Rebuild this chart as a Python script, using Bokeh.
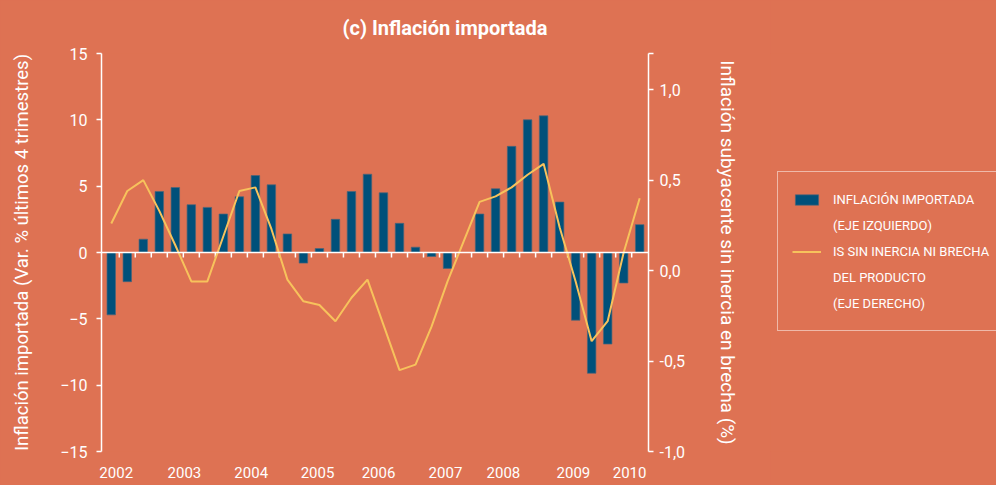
from bokeh.plotting import figure
from bokeh.layouts import row
from bokeh.models import Range1d, LinearAxis, FixedTicker, Legend, LegendItem, ColumnDataSource, Span
from bokeh.embed import file_html
from bokeh.resources import INLINE

# ---- data (2002Q1 .. 2010Q2) ----
quarters = list(range(1, 35))
inflacion_importada = [-4.7, -2.2, 1.0, 4.6, 4.9, 3.6, 3.4, 2.9, 4.2, 5.8, 5.1, 1.4,
                       -0.8, 0.3, 2.5, 4.6, 5.9, 4.5, 2.2, 0.4, -0.3, -1.2, 0.0, 2.9,
                       4.8, 8.0, 10.0, 10.3, 3.8, -5.1, -9.1, -6.9, -2.3, 2.1]
is_sin_inercia = [0.26, 0.44, 0.50, 0.33, 0.14, -0.06, -0.06, 0.19, 0.44, 0.46, 0.23, -0.05,
                  -0.17, -0.19, -0.28, -0.15, -0.05, -0.30, -0.55, -0.52, -0.31, -0.06, 0.16, 0.38,
                  0.41, 0.46, 0.53, 0.59, 0.24, -0.06, -0.39, -0.28, 0.10, 0.40]
year_labels = ["2002", "2003", "2004", "2005", "2006", "2007", "2008", "2009", "2010"]
year_label_pos = [1.31, 5.57, 9.74, 13.88, 17.69, 21.87, 25.49, 29.86, 33.37]
left_ticks = [-15, -10, -5, 0, 5, 10, 15]
right_ticks = [-1.0, -0.5, 0.0, 0.5, 1.0, 1.2]
right_tick_labels = ["-1,0", "-0,5", "0,0", "0,5", "1,0", ""]
legend_lines_bars = ["INFLACIÓN IMPORTADA", "(EJE IZQUIERDO)"]
legend_lines_line = ["IS SIN INERCIA NI BRECHA", "DEL PRODUCTO", "(EJE DERECHO)"]

BG = "#DE7253"
BLUE = "#00507A"
YELLOW = "#F7C25C"
WHITE = "#FFFFFF"
FONT = "Roboto"

p = figure(width=770, height=485, x_range=Range1d(0.39, 34.55), y_range=Range1d(-15, 15),
           output_backend="svg", toolbar_location=None,
           min_border_left=101, min_border_right=122, min_border_top=53, min_border_bottom=34,
           background_fill_color=BG, border_fill_color=BG, outline_line_color=None)
p.grid.visible = False

# title
p.title.text = "(c) Inflación importada"
p.title.align = "left"
p.title.offset = 241
p.title.text_font = FONT
p.title.text_font_size = "20px"
p.title.text_font_style = "bold"
p.title.text_color = WHITE
p.title.standoff = 27

# x axis (year labels only)
xa = p.xaxis[0]
xa.ticker = FixedTicker(ticks=year_label_pos)
xa.major_label_overrides = {pos: lab for pos, lab in zip(year_label_pos, year_labels)}
xa.axis_line_color = None
xa.major_tick_line_color = None
xa.minor_tick_line_color = None
xa.major_tick_out = 0
xa.major_tick_in = 0
xa.major_label_standoff = 15
xa.major_label_text_font = FONT
xa.major_label_text_font_size = "15px"
xa.major_label_text_color = WHITE

# left axis
ya = p.yaxis[0]
ya.ticker = FixedTicker(ticks=left_ticks)
ya.axis_line_color = WHITE
ya.axis_line_width = 1.5
ya.major_tick_line_color = WHITE
ya.major_tick_line_width = 1.5
ya.major_tick_out = 5
ya.major_tick_in = 0
ya.minor_tick_line_color = None
ya.major_label_standoff = 9
ya.major_label_text_font = FONT
ya.major_label_text_font_size = "16px"
ya.major_label_text_color = WHITE
ya.axis_label = "Inflación importada (Var. % últimos 4 trimestres)"
ya.axis_label_text_font = FONT
ya.axis_label_text_font_size = "18.5px"
ya.axis_label_text_font_style = "normal"
ya.axis_label_text_color = WHITE
ya.axis_label_standoff = 24

# right axis
p.extra_y_ranges = {"right": Range1d(-1.0, 1.2)}
ra = LinearAxis(y_range_name="right")
ra.ticker = FixedTicker(ticks=right_ticks)
ra.major_label_overrides = {t: l for t, l in zip(right_ticks, right_tick_labels)}
ra.axis_line_color = WHITE
ra.axis_line_width = 1.5
ra.major_tick_line_color = WHITE
ra.major_tick_line_width = 1.5
ra.major_tick_out = 5
ra.major_tick_in = 0
ra.minor_tick_line_color = None
ra.major_label_standoff = 6
ra.major_label_text_font = FONT
ra.major_label_text_font_size = "16px"
ra.major_label_text_color = WHITE
ra.axis_label = "Inflación subyacente sin inercia en brecha (%)"
ra.axis_label_text_font = FONT
ra.axis_label_text_font_size = "19px"
ra.axis_label_text_font_style = "normal"
ra.axis_label_text_color = WHITE
ra.axis_label_standoff = 28
p.add_layout(ra, "right")

src = ColumnDataSource(dict(q=quarters, inf=inflacion_importada, isi=is_sin_inercia))

bars = p.vbar(x="q", top="inf", bottom=0, width=0.53, source=src,
              fill_color=BLUE, line_color="#4d6578", line_width=0.7)

# zero line with small ticks between quarters
p.add_layout(Span(location=0, dimension="width", line_color=WHITE, line_width=1.5))
tick_x = [q + 0.5 for q in quarters[:-1]]
p.segment(x0=tick_x, y0=[0] * len(tick_x), x1=tick_x, y1=[-0.38] * len(tick_x),
          line_color=WHITE, line_width=1.5)

line = p.line(x="q", y="isi", source=src, y_range_name="right",
              line_color=YELLOW, line_width=2)

# ---- legend panel (second figure, no axes; proxies lie outside its ranges) ----
pl = figure(width=226, height=485, output_backend="svg", toolbar_location=None,
            x_range=Range1d(-3, -2), y_range=Range1d(-3, -2),
            x_axis_location=None, y_axis_location=None,
            min_border_left=0, min_border_right=0, min_border_top=0, min_border_bottom=0,
            background_fill_color=BG, border_fill_color=BG, outline_line_color=None)
pl.grid.visible = False
lg_bar = pl.vbar(x="q", top="inf", bottom=0, width=0.53, source=src,
                 fill_color=BLUE, line_color="#4d6578", line_width=0.7)
lg_line = pl.line(x="q", y="isi", source=src, line_color=YELLOW, line_width=2)
lg_blank = pl.line(x="q", y="isi", source=src, line_alpha=0)

items = [LegendItem(label=legend_lines_bars[0], renderers=[lg_bar])]
items += [LegendItem(label=t, renderers=[lg_blank]) for t in legend_lines_bars[1:]]
items += [LegendItem(label=legend_lines_line[0], renderers=[lg_line])]
items += [LegendItem(label=t, renderers=[lg_blank]) for t in legend_lines_line[1:]]

legend = Legend(items=items, location=(7, 120))
legend.margin = 0
legend.padding = 14
legend.spacing = 0
legend.glyph_width = 29
legend.glyph_height = 13
legend.label_height = 26
legend.label_standoff = 12
legend.label_width = 175
legend.label_text_font = FONT
legend.label_text_font_size = "13px"
legend.label_text_color = WHITE
legend.background_fill_color = BG
legend.background_fill_alpha = 1.0
legend.border_line_color = WHITE
legend.border_line_width = 1.2
pl.add_layout(legend)

html = file_html(row(p, pl), INLINE)
style = "<style>html, body { background-color: %s !important; }</style>" % BG
if "</head>" in html:
    html = html.replace("</head>", style + "</head>", 1)
else:
    html = style + html
open("out.html", "w").write(html)
